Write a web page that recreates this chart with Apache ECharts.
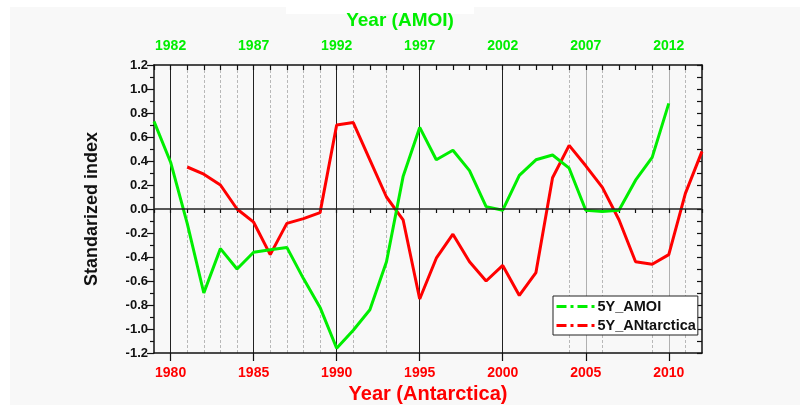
<!DOCTYPE html>
<html>
<head>
<meta charset="utf-8">
<script src="https://cdn.jsdelivr.net/npm/echarts@6/dist/echarts.min.js"></script>
<style>
  html, body { margin: 0; padding: 0; background: #ffffff; }
  #panel { position: absolute; left: 10px; top: 7px; width: 790px; height: 398px; background: #f8f8f8; }
  #notch { position: absolute; left: 286px; top: 0; width: 188px; height: 14px; background: #ffffff; }
  #chart { position: absolute; left: 0; top: 0; width: 800px; height: 405px; }
</style>
</head>
<body>
<div id="panel"></div>
<div id="notch"></div>
<div id="chart"></div>
<script>
// Antarctica years (bottom axis) and AMOI years (top axis, shifted by two years)
const antYears = [];
for (let y = 1979; y <= 2012; y++) antYears.push(String(y));
const amoiYears = [];
for (let y = 1981; y <= 2014; y++) amoiYears.push(String(y));

// 5-year smoothed AMOI, plotted against the Antarctica years 1979-2010
const amoiStart = 1979;
const amoiValues = [
  0.73, 0.39, -0.12, -0.70, -0.33, -0.50, -0.36, -0.34, -0.32, -0.58,
  -0.82, -1.16, -1.01, -0.84, -0.44, 0.27, 0.68, 0.41, 0.49, 0.32,
  0.02, -0.01, 0.28, 0.41, 0.45, 0.34, -0.01, -0.02, -0.01, 0.24,
  0.43, 0.88
];

// 5-year smoothed Antarctic index, 1981-2012
const antStart = 1981;
const antValues = [
  0.35, 0.29, 0.20, 0.00, -0.11, -0.38, -0.12, -0.08, -0.03, 0.70,
  0.72, 0.41, 0.10, -0.09, -0.75, -0.41, -0.21, -0.44, -0.60, -0.47,
  -0.72, -0.53, 0.26, 0.53, 0.36, 0.18, -0.09, -0.44, -0.46, -0.38,
  0.13, 0.48
];

// Reference grid lines (bottom-axis years)
const solidBlackYears = [1980, 1985, 1990, 1995, 2000];
const solidGreyYears = [2005, 2010];
const dashedYears = [1981, 1982, 1983, 1984, 1986, 1987, 1988, 1989, 1991, 1993, 2004, 2006, 2009, 2011];

const yRange = { min: -1.2, max: 1.2 };

const pairs = (start, vals) => vals.map((v, i) => [String(start + i), v]);

const sans = '"Liberation Sans", Arial, sans-serif';

// hidden category axes that only carry vertical guide lines
function guideAxis(years, style) {
  return {
    type: 'category', data: antYears, boundaryGap: false, position: 'bottom',
    axisLine: { show: false }, axisTick: { show: false }, axisLabel: { show: false },
    splitLine: {
      show: true,
      interval: (idx, val) => years.indexOf(Number(val)) >= 0,
      lineStyle: style
    }
  };
}

const chart = echarts.init(document.getElementById('chart'), null, { renderer: 'canvas' });
chart.setOption({
  backgroundColor: 'transparent',
  animation: false,
  grid: { left: 154, right: 98, top: 65, bottom: 52, outerBoundsMode: 'none', containLabel: false },
  legend: {
    orient: 'vertical',
    left: 553, top: 296,
    backgroundColor: '#ffffff',
    borderColor: '#222222', borderWidth: 1, borderRadius: 0,
    padding: [3, 2, 2, 2],
    itemGap: 4,
    itemWidth: 38, itemHeight: 10,
    textStyle: { fontFamily: sans, fontWeight: 'bold', fontSize: 14.5, color: '#111', padding: [0, 0, 0, -2] },
    itemStyle: { color: 'transparent', borderColor: 'transparent', borderWidth: 0 },
    lineStyle: { width: 3, type: [10, 4, 3, 4] },
    data: ['5Y_AMOI', '5Y_ANtarctica']
  },
  xAxis: [
    {
      // bottom axis: Antarctica years, major ticks and labels every 5 years
      type: 'category', data: antYears, boundaryGap: false, position: 'bottom',
      name: 'Year (Antarctica)', nameLocation: 'middle', nameGap: 30,
      nameTextStyle: { fontFamily: sans, fontWeight: 'bold', fontSize: 20, color: '#ff0000' },
      axisLine: { show: true, onZero: false, lineStyle: { color: '#111', width: 1.5 } },
      axisTick: { show: true, length: 8, interval: (i, v) => Number(v) % 5 === 0, lineStyle: { color: '#111', width: 1.2 } },
      axisLabel: { show: true, margin: 13, interval: (i, v) => Number(v) % 5 === 0,
        fontFamily: sans, fontWeight: 'bold', fontSize: 14, color: '#ff0000' },
      splitLine: { show: false }
    },
    {
      // bottom axis minor ticks, one per year
      type: 'category', data: antYears, boundaryGap: false, position: 'bottom',
      axisLine: { show: false },
      axisTick: { show: true, length: 4, interval: 0, lineStyle: { color: '#111', width: 1.2 } },
      axisLabel: { show: false }, splitLine: { show: false }
    },
    {
      // top axis: AMOI years
      type: 'category', data: amoiYears, boundaryGap: false, position: 'top',
      name: 'Year (AMOI)', nameLocation: 'middle', nameGap: 35,
      nameTextStyle: { fontFamily: sans, fontWeight: 'bold', fontSize: 19, color: '#00ee00',
        padding: [0, 56, 0, 0] },
      axisLine: { show: true, onZero: false, lineStyle: { color: '#111', width: 1.5 } },
      axisTick: { show: true, inside: true, length: 5, interval: 0, lineStyle: { color: '#111', width: 1.2 } },
      axisLabel: { show: true, margin: 12, interval: (i, v) => (Number(v) - 2) % 5 === 0,
        fontFamily: sans, fontWeight: 'bold', fontSize: 14, color: '#00ee00' },
      splitLine: { show: false }
    },
    guideAxis(dashedYears, { color: '#b8b8b8', width: 1, type: [3, 2] }),
    guideAxis(solidGreyYears, { color: '#b0b0b0', width: 1, type: 'solid' }),
    guideAxis(solidBlackYears, { color: '#222222', width: 1, type: 'solid' })
  ],
  yAxis: [
    {
      type: 'value', min: yRange.min, max: yRange.max, interval: 0.2, position: 'left',
      name: 'Standarized index', nameLocation: 'middle', nameGap: 53,
      nameTextStyle: { fontFamily: sans, fontWeight: 'bold', fontSize: 18, color: '#111' },
      axisLine: { show: true, onZero: false, lineStyle: { color: '#111', width: 1.5 } },
      axisTick: { show: true, length: 7, lineStyle: { color: '#111', width: 1.2 } },
      minorTick: { show: true, splitNumber: 2, length: 4, lineStyle: { color: '#111', width: 1.2 } },
      axisLabel: { margin: 6, fontFamily: sans, fontWeight: 'bold', fontSize: 13, color: '#111',
        formatter: v => v.toFixed(1) },
      splitLine: { show: false }
    },
    {
      type: 'value', min: yRange.min, max: yRange.max, interval: 0.1, position: 'right',
      axisLine: { show: true, onZero: false, lineStyle: { color: '#111', width: 1.5 } },
      axisTick: { show: true, inside: true, length: 5, lineStyle: { color: '#111', width: 1.2 } },
      axisLabel: { show: false },
      splitLine: { show: false }
    }
  ],
  series: [
    {
      name: '5Y_AMOI', type: 'line', xAxisIndex: 0, yAxisIndex: 0,
      data: pairs(amoiStart, amoiValues),
      symbol: 'none', color: '#00ee00',
      lineStyle: { color: '#00ee00', width: 3 },
      z: 4,
      markLine: {
        silent: true, symbol: 'none', label: { show: false },
        lineStyle: { color: '#222', width: 1.5, type: 'solid' },
        data: [{ yAxis: 0 }]
      }
    },
    {
      name: '5Y_ANtarctica', type: 'line', xAxisIndex: 0, yAxisIndex: 0,
      data: pairs(antStart, antValues),
      symbol: 'none', color: '#ff0000',
      lineStyle: { color: '#ff0000', width: 3 },
      z: 3
    }
  ]
});
</script>
</body>
</html>
